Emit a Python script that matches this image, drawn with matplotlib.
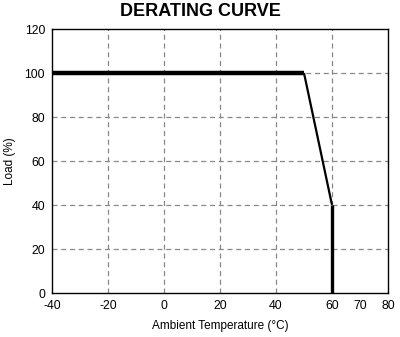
import matplotlib
matplotlib.use("Agg")
import matplotlib.pyplot as plt

plt.rcParams['font.family'] = ['Liberation Sans', 'DejaVu Sans']
plt.rcParams['axes.unicode_minus'] = False

# derating curve points (ambient temp in C, load in %)
temps = [-40, 50, 60, 60]
loads = [100, 100, 40, 0]
seg_widths = [3.2, 1.6, 2.4]

xticks = [-40, -20, 0, 20, 40, 60, 70, 80]
xgrid = [-20, 0, 20, 40, 60]
yticks = [0, 20, 40, 60, 80, 100, 120]

fig = plt.figure(figsize=(4.0, 3.37), dpi=100)
ax = fig.add_axes([52 / 400, 1 - 293 / 337, (388 - 52) / 400, (293 - 29) / 337])

for x in xgrid:
    ax.axvline(x, color="#888888", lw=0.9, ls=(0, (4, 3)), zorder=1)
for y in yticks[1:-1]:
    ax.axhline(y, color="#888888", lw=0.9, ls=(0, (4, 3)), zorder=1)

for i in range(len(temps) - 1):
    ax.plot(temps[i:i + 2], loads[i:i + 2], color="black", lw=seg_widths[i],
            solid_capstyle="butt", zorder=3)

ax.set_xlim(-40, 80)
ax.set_ylim(0, 120)
ax.set_xticks(xticks)
ax.set_yticks(yticks)
ax.tick_params(length=0, labelsize=8.8, pad=5)
for s in ax.spines.values():
    s.set_linewidth(1.0)

ax.set_xlabel("Ambient Temperature (°C)", fontsize=8.5, labelpad=6)
ax.set_ylabel("Load (%)", fontsize=8.5, labelpad=6)
fig.text(0.5, 1 - 11 / 337, "DERATING CURVE", ha="center", va="center",
         fontsize=13, fontweight="bold")

fig.savefig("out.png", dpi=100)
